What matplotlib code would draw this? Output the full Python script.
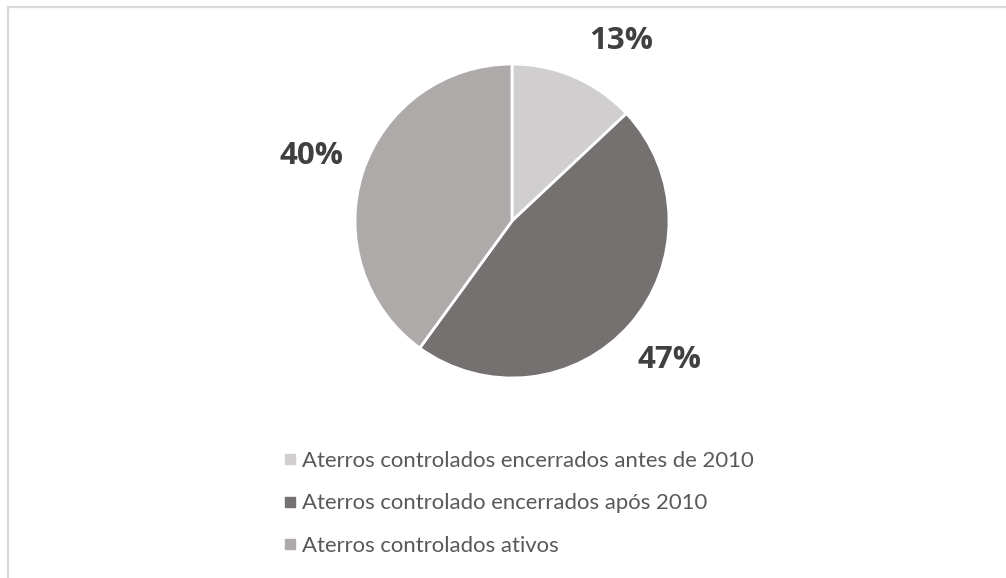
import numpy as np
import matplotlib
matplotlib.use("Agg")
import matplotlib.pyplot as plt
from matplotlib.patches import Rectangle
from matplotlib.lines import Line2D

# dados do gráfico
categorias = ["Aterros controlados encerrados antes de 2010",
              "Aterros controlado encerrados após 2010",
              "Aterros controlados ativos"]
valores = [13, 47, 40]
cores = ["#D0CECE", "#767171", "#AEAAAA"]
# pequeno ajuste angular dos rótulos (graus), como o Excel faz
ajuste_rotulo = [-8, 0, 0]

plt.rcParams['font.family'] = ['Lato', 'DejaVu Sans']

W, H = 1006, 578
fig = plt.figure(figsize=(W / 100, H / 100), dpi=100)

# moldura cinza do gráfico (continua para fora da imagem à direita/baixo)
fig.patches.append(Rectangle((8 / W, -0.1), 1.2, (H - 7) / H + 0.1,
                             transform=fig.transFigure, fill=False,
                             edgecolor="#D9D9D9", linewidth=1.6))

cx, cy, r = 512, 221, 157
ax = fig.add_axes([(cx - r) / W, (H - cy - r) / H, 2 * r / W, 2 * r / H])
wedges, _ = ax.pie(valores, colors=cores, startangle=90, counterclock=False,
                   radius=1, wedgeprops=dict(edgecolor="white", linewidth=2))
ax.set_xlim(-1, 1)
ax.set_ylim(-1, 1)
ax.set_aspect("equal")
ax.axis("off")

for w, v, d in zip(wedges, valores, ajuste_rotulo):
    ang = np.deg2rad((w.theta1 + w.theta2) / 2 + d)
    ax.text(1.34 * np.cos(ang), 1.34 * np.sin(ang), f"{v}%",
            ha="center", va="center", fontsize=22.5, fontweight="bold",
            family=["Open Sans", "DejaVu Sans"],
            color="#404040", clip_on=False)

handles = [Line2D([], [], marker="s", linestyle="none", markersize=7,
                  markerfacecolor=c, markeredgecolor=c) for c in cores]
fig.legend(handles, categorias, loc="upper left",
           bbox_to_anchor=(276 / W, 1 - 442 / H), frameon=False,
           fontsize=15.9, labelcolor="#595959", handlelength=0.5,
           handletextpad=0.3, labelspacing=1.02, borderaxespad=0)

fig.savefig("out.png", dpi=100)
